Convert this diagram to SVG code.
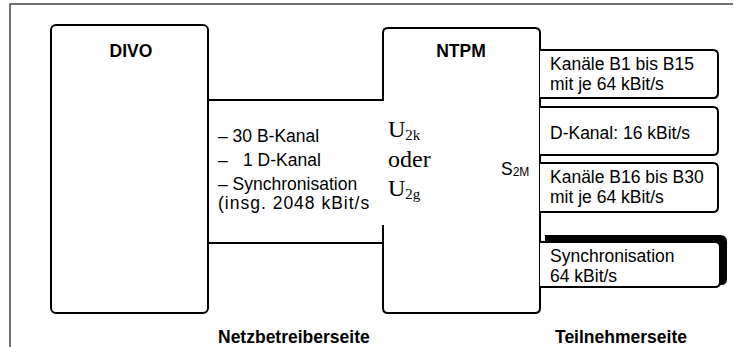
<svg xmlns="http://www.w3.org/2000/svg" width="740" height="347" viewBox="0 0 740 347">
<style>
.box{fill:#fff;stroke:#000;stroke-width:2;stroke-linejoin:round}
.ln{fill:none;stroke:#000;stroke-width:2}
.frame{fill:none;stroke:#444;stroke-width:1.5}
.t{font-family:"Liberation Sans",Arial,sans-serif;font-size:17.5px;fill:#000}
.b{font-family:"Liberation Sans",Arial,sans-serif;font-size:17.5px;font-weight:bold;fill:#000}
.s{font-family:"Liberation Serif","Times New Roman",serif;font-size:24px;fill:#000}
</style>
<defs>
<clipPath id="clipMid"><rect x="210" y="100" width="160" height="143"/></clipPath>
</defs>
<path class="frame" d="M10,347 V4 H733"/>
<g id="divo">
<rect class="box" x="51" y="25" width="157" height="288" rx="5"/>
<text class="b" x="131" y="57" text-anchor="middle">DIVO</text>
</g>
<g id="ntpm">
<path class="box" d="M383,100 V33 Q383,28 388,28 H535 Q540,28 540,33 V308 Q540,313 535,313 H388 Q383,313 383,308 V225" fill="#fff"/>
<text class="b" x="461" y="57" text-anchor="middle">NTPM</text>
<text class="s" x="388" y="137">U<tspan font-size="15" dy="3">2k</tspan></text>
<text class="s" x="388" y="167">oder</text>
<text class="s" x="388" y="196">U<tspan font-size="15" dy="3">2g</tspan></text>
<text class="t" x="501" y="175" font-size="16">S<tspan font-size="12" dy="1">2M</tspan></text>
</g>
<g id="connectors">
<path class="ln" d="M208,100 H384"/>
<path class="ln" d="M208,243 H384"/>
</g>
<g id="channel-label">
<text class="t" x="218" y="142">– 30 B-Kanal</text>
<text class="t" x="218" y="166">–<tspan x="243">1 D-Kanal</tspan></text>
<text class="t" x="218" y="190">– Synchronisation</text>
<text class="t" x="218" y="209" letter-spacing="1" clip-path="url(#clipMid)">(insg. 2048 kBit/s</text>
</g>
<g id="box-b1-b15">
<path class="box" d="M540,50 H713 Q718,50 718,55 V93 Q718,98 713,98 H540"/>
<text class="t" x="550" y="70">Kanäle B1 bis B15</text>
<text class="t" x="550" y="90">mit je 64 kBit/s</text>
</g>
<g id="box-d">
<path class="box" d="M540,107 H713 Q718,107 718,112 V150 Q718,155 713,155 H540"/>
<text class="t" x="550" y="139">D-Kanal: 16 kBit/s</text>
</g>
<g id="box-b16-b30">
<path class="box" d="M540,163 H713 Q718,163 718,168 V207 Q718,212 713,212 H540"/>
<text class="t" x="550" y="183">Kanäle B16 bis B30</text>
<text class="t" x="550" y="203">mit je 64 kBit/s</text>
</g>
<g id="box-sync">
<path d="M545,235 H720 Q727,235 727,242 V279 Q727,285 721,285 H545 Z" fill="#000"/>
<path class="box" d="M540,242 H715 Q720,242 720,247 V282 Q720,287 715,287 H540"/>
<text class="t" x="550" y="262">Synchronisation</text>
<text class="t" x="550" y="282">64 kBit/s</text>
</g>
<g id="footer">
<text class="b" x="218" y="343" font-size="18">Netzbetreiberseite</text>
<text class="b" x="555" y="343">Teilnehmerseite</text>
</g>
</svg>
